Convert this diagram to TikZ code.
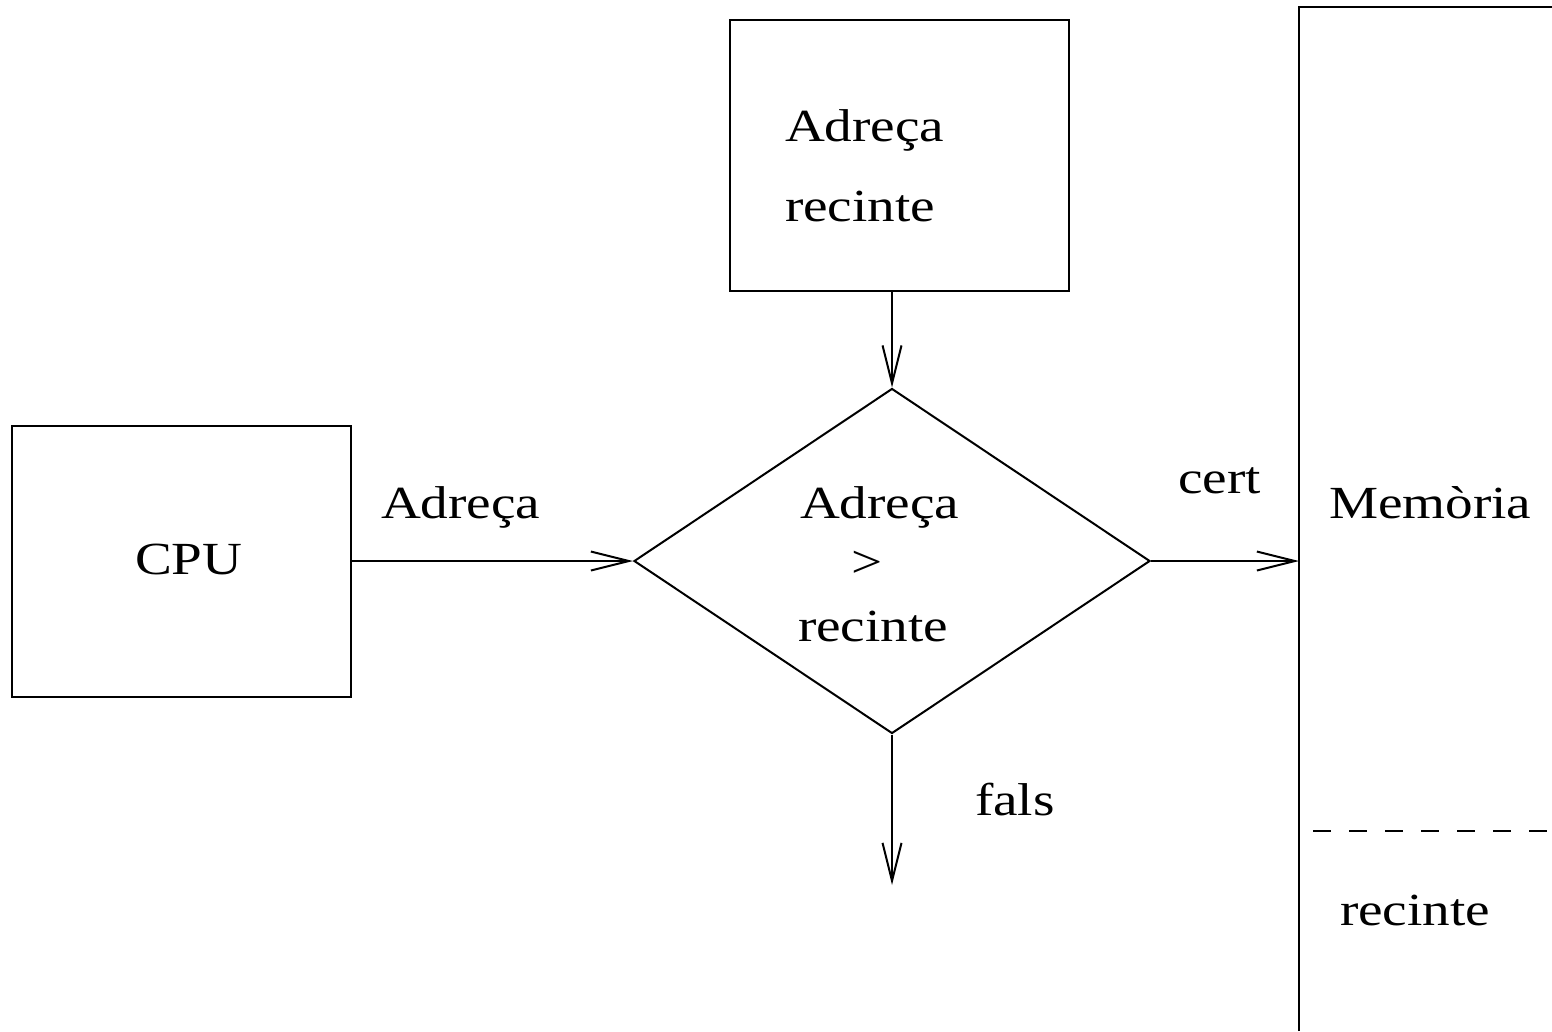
\documentclass[tikz,border=0pt]{standalone}
\usepackage{fontspec}
\setmainfont{Liberation Serif}[FakeStretch=1.2]
\usetikzlibrary{arrows.meta,shapes.geometric}

\begin{document}
\begin{tikzpicture}[x=1pt,y=-1pt,
  line width=2pt,
  every node/.style={inner sep=0pt},
  txt/.style={anchor=base west,font=\fontsize{46}{54}\selectfont},
  ctxt/.style={anchor=base,font=\fontsize{46}{54}\selectfont},
  boxnode/.style={draw,rectangle,minimum width=339pt,minimum height=271pt},
  flow/.style={-{Straight Barb[length=38pt,width=19pt,line width=2pt]}}]

  \useasboundingbox (0,0) rectangle (1552,1031);

  % processor and the register holding the fence address
  \node[boxnode] (cpu) at (181.5,561) {};
  \node[boxnode] (reg) at (899.5,155.5) {};

  % comparison
  \node[draw,diamond,minimum width=516pt,minimum height=345pt] (cmp) at (892,561) {};

  % memory column, open at the bottom and right
  \draw (1299,1031) -- (1299,7) -- (1552,7);
  \draw[dash pattern=on 18pt off 18pt] (1313,831) -- (1552,831);
  \coordinate (mem) at (1299,561);
  \coordinate (fail) at (892,885);

  % connectors
  \draw[flow] (cpu.east) -- (cmp.west);
  \draw[flow] (reg.south -| cmp.north) -- (cmp.north);
  \draw[flow] (cmp.east) -- (mem);
  \draw[flow] (cmp.south) -- (fail);

  % texts
  \node[txt] (tcpu) at (134,574) {CPU};
  \node[txt] (treg1) at (784,141) {Adreça};
  \node[txt] (treg2) at (784,221) {recinte};
  \node[txt] (taddr) at (380,518) {Adreça};
  \node[txt] (tcmp1) at (799,518) {Adreça};
  \node[ctxt] (tcmp2) at (867,577) {>};
  \node[txt] (tcmp3) at (797,641) {recinte};
  \node[txt] (ttrue) at (1177,493) {cert};
  \node[txt] (tfalse) at (974,815) {fals};
  \node[txt] (tmem) at (1328,518) {Memòria};
  \node[txt] (tfence) at (1339,925) {recinte};
\end{tikzpicture}
\end{document}
